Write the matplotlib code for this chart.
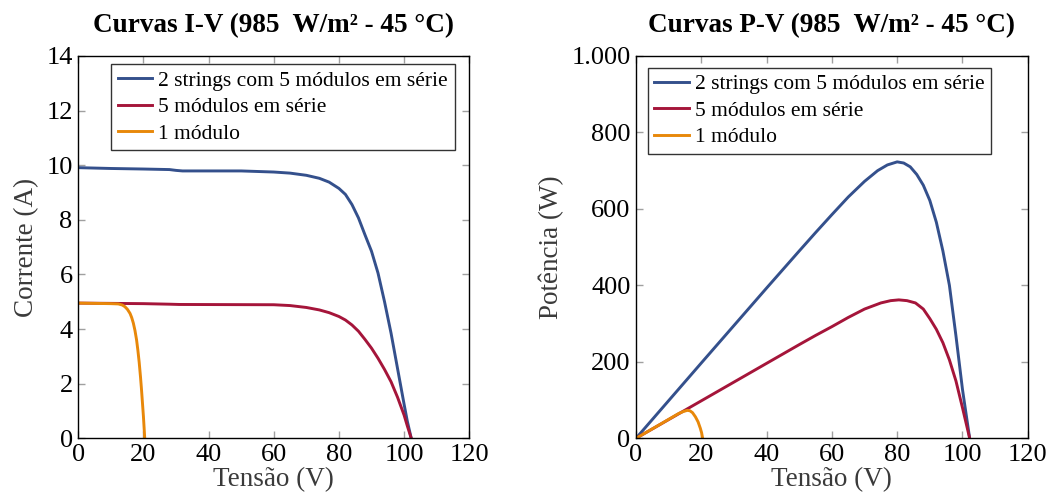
import matplotlib.pyplot as plt
from matplotlib.ticker import FuncFormatter

plt.rcParams['font.family'] = ['Liberation Serif', 'DejaVu Serif']

# curvas I-V (tensão em V, corrente em A)
v_iv_2s = [0, 10, 20, 28, 30, 32, 50, 60, 65, 70, 74, 77, 80, 82, 84, 86, 88, 90, 92, 94, 96, 98, 100, 101, 102.2]
i_iv_2s = [9.91, 9.88, 9.86, 9.84, 9.81, 9.79, 9.79, 9.75, 9.71, 9.63, 9.52, 9.38, 9.15, 8.93, 8.56, 8.07,
           7.45, 6.85, 6.05, 5.0, 3.85, 2.55, 1.25, 0.62, 0]

v_iv_5s = [0, 10, 20, 28, 31, 60, 65, 70, 74, 77, 80, 82, 84, 86, 88, 90, 92, 94, 96, 98, 100, 101, 102.2]
i_iv_5s = [4.95, 4.94, 4.93, 4.91, 4.9, 4.89, 4.86, 4.79, 4.7, 4.6, 4.46, 4.33, 4.15, 3.92, 3.62, 3.3,
           2.93, 2.52, 2.07, 1.5, 0.85, 0.45, 0]

v_iv_1m = [0, 5, 10, 12.3, 13.5, 14.3, 15.1, 15.9, 16.4, 16.9, 17.4, 17.9, 18.3, 18.7, 19.1, 19.4,
           19.7, 20.0, 20.2, 20.4]
i_iv_1m = [4.95, 4.94, 4.93, 4.92, 4.88, 4.82, 4.72, 4.57, 4.42, 4.22, 3.95, 3.6, 3.22, 2.78, 2.25, 1.8,
           1.3, 0.8, 0.4, 0]

# curvas P-V (tensão em V, potência em W)
v_pv_2s = [0, 20, 40, 50, 55, 60, 65, 70, 74, 77, 80, 82, 84, 86, 88, 90, 92, 94, 96, 98, 100, 102.2]
p_pv_2s = [0, 197, 393, 490, 538, 585, 631, 672, 700, 715, 723, 720, 710, 690, 662, 622, 565, 490, 400,
           268, 128, 0]

v_pv_5s = [0, 20, 40, 50, 55, 60, 65, 70, 75, 78, 80.5, 83, 85.6, 88, 90, 92, 94, 96, 98, 100, 102.2]
p_pv_5s = [0, 98, 196, 245, 269, 292, 316, 338, 354, 360, 362, 360, 354, 338, 313, 285, 250, 205, 150, 80, 0]

v_pv_1m = [0, 8.1, 13.1, 14.5, 15.7, 16.5, 17.3, 18.2, 19, 19.7, 20.1, 20.4]
p_pv_1m = [0, 40, 65, 70, 73, 72, 67, 56, 43, 26, 14, 0]

labels = ['2 strings com 5 módulos em série', '5 módulos em série', '1 módulo']
colors = ['#34508c', '#a5153a', '#e8880a']

fig = plt.figure(figsize=(10.59, 4.94), dpi=100)
ax1 = fig.add_axes([0.0739, 0.1128, 0.3692, 0.7739])
ax2 = fig.add_axes([0.6006, 0.1128, 0.3699, 0.7739])


def style_axes(ax):
    ax.set_xlim(0, 120)
    ax.set_xticks(range(0, 121, 20))
    ax.tick_params(direction='in', top=True, right=True, length=5, width=1,
                   color='#a0a0a0', labelsize=19, labelcolor='black', pad=4)
    for s in ax.spines.values():
        s.set_linewidth(1.0)
        s.set_color('black')
    ax.set_xlabel('Tensão (V)', fontsize=19.5, color='#3a3a3a', labelpad=1)


for v, y, lab, c in zip([v_iv_2s, v_iv_5s, v_iv_1m], [i_iv_2s, i_iv_5s, i_iv_1m], labels, colors):
    ax1.plot(v, y, color=c, lw=2.1, label=lab, solid_joinstyle='round')
style_axes(ax1)
ax1.set_ylim(0, 14)
ax1.set_yticks(range(0, 15, 2))
ax1.set_ylabel('Corrente (A)', fontsize=19.5, color='#3a3a3a', labelpad=5)
ax1.set_title('Curvas I-V (985  W/m² - 45 °C)', fontsize=19.5, fontweight='bold', pad=17)

for v, y, lab, c in zip([v_pv_2s, v_pv_5s, v_pv_1m], [p_pv_2s, p_pv_5s, p_pv_1m], labels, colors):
    ax2.plot(v, y, color=c, lw=2.1, label=lab, solid_joinstyle='round')
style_axes(ax2)
ax2.set_ylim(0, 1000)
ax2.set_yticks(range(0, 1001, 200))
ax2.yaxis.set_major_formatter(FuncFormatter(lambda x, p: f'{int(x):,}'.replace(',', '.')))
ax2.set_ylabel('Potência (W)', fontsize=19.5, color='#3a3a3a', labelpad=5)
ax2.set_title('Curvas P-V (985  W/m² - 45 °C)', fontsize=19.5, fontweight='bold', pad=17)

for ax, x0, y0 in [(ax1, 0.084, 0.978), (ax2, 0.03, 0.969)]:
    leg = ax.legend(loc='upper left', bbox_to_anchor=(x0, y0), fontsize=15.5,
                    frameon=True, fancybox=False, framealpha=1, edgecolor='#333333',
                    handlelength=1.6, handletextpad=0.3, labelspacing=0.3,
                    borderpad=0.3, borderaxespad=0)
    leg.get_frame().set_linewidth(1.0)

fig.savefig('out.png', dpi=100)
